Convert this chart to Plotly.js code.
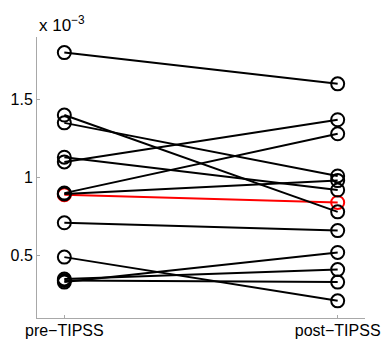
<!DOCTYPE html>
<html>
<head>
<meta charset="utf-8">
<script src="https://cdn.plot.ly/plotly-3.0.1.min.js"></script>
<style>html,body{margin:0;padding:0;background:#fff;}#chart{width:386px;height:339px;}</style>
</head>
<body>
<div id="chart"></div>
<script>
// Values (real units)
const groupLabels = ['pre\u2212TIPSS', 'post\u2212TIPSS'];
const preValues  = [0.00180, 0.00140, 0.00135, 0.00113, 0.00110, 0.00090, 0.000895, 0.00089, 0.00071, 0.00049, 0.00035, 0.00034, 0.00033];
const postValues = [0.00160, 0.00078, 0.00101, 0.00092, 0.00137, 0.00128, 0.00098, 0.00084, 0.00066, 0.00021, 0.00041, 0.00033, 0.00052];
const highlight  = [false, false, false, false, false, false, false, true, false, false, false, false, false];
const yTickVals = [0.0005, 0.0010, 0.0015];
const yTickText = ['0.5', '1', '1.5'];

const traces = [];
function mk(i) {
  const c = highlight[i] ? '#ff0000' : '#000000';
  return {
    x: [1, 2],
    y: [preValues[i], postValues[i]],
    mode: 'lines+markers',
    line: {color: c, width: 2},
    marker: {symbol: 'circle-open', size: 13, color: c, line: {width: 2, color: c}},
    showlegend: false,
    hoverinfo: 'skip'
  };
}
preValues.forEach((v, i) => { if (highlight[i]) traces.push(mk(i)); });
preValues.forEach((v, i) => { if (!highlight[i]) traces.push(mk(i)); });

const layout = {
  width: 386, height: 339,
  margin: {l: 37, r: 21, t: 37, b: 21},
  paper_bgcolor: '#ffffff', plot_bgcolor: '#ffffff',
  font: {family: 'Liberation Sans, Arial, sans-serif', size: 16, color: '#000'},
  xaxis: {
    range: [0.9, 2.1], tickvals: [1, 2], ticktext: groupLabels,
    showgrid: false, zeroline: false, showline: true, linecolor: '#a8a8a8', linewidth: 1,
    ticks: 'inside', ticklen: 3, tickcolor: '#a8a8a8',
    tickfont: {size: 16}, ticklabelstandoff: -2
  },
  yaxis: {
    range: [0.0001, 0.0019], tickvals: yTickVals, ticktext: yTickText,
    showgrid: false, zeroline: false, showline: true, linecolor: '#a8a8a8', linewidth: 1,
    ticks: 'inside', ticklen: 3, tickcolor: '#a8a8a8',
    tickfont: {size: 16}
  },
  annotations: [{
    xref: 'paper', yref: 'paper', x: 0.0, y: 1.0, xanchor: 'left', yanchor: 'bottom',
    text: 'x 10<sup>\u22123</sup>', showarrow: false, font: {size: 17, color: '#000'}
  }]
};
Plotly.newPlot('chart', traces, layout, {displayModeBar: false, staticPlot: true});
</script>
</body>
</html>
